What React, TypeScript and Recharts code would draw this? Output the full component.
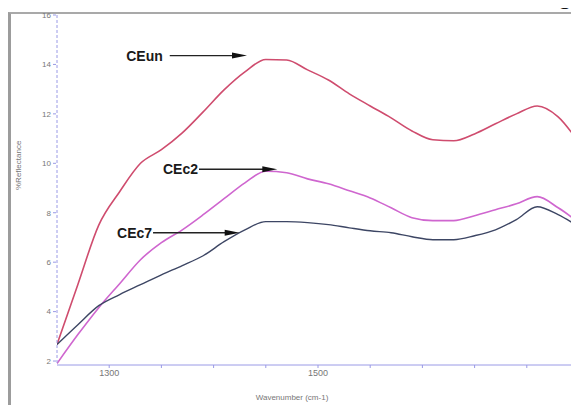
import React from 'react';
import { LineChart, Line, XAxis, YAxis, ReferenceLine } from 'recharts';

// wavenumber samples (cm-1)
const wavenumbers = [
  1250, 1270, 1290, 1310, 1330, 1350, 1370, 1390, 1410, 1430, 1450, 1470, 1490,
  1510, 1530, 1550, 1570, 1590, 1610, 1630, 1650, 1670, 1690, 1710, 1730, 1750,
];

const ceUn = [
  2.67, 5.1, 7.5, 8.85, 10.0, 10.55, 11.23, 12.08, 12.97, 13.7, 14.2, 14.18, 13.78,
  13.37, 12.81, 12.32, 11.84, 11.31, 10.95, 10.91, 11.19, 11.6, 12.0, 12.32, 11.88, 10.83,
];

const ceC2 = [
  1.9, 3.07, 4.16, 5.13, 6.1, 6.79, 7.31, 7.92, 8.57, 9.21, 9.68, 9.62, 9.37,
  9.17, 8.89, 8.6, 8.2, 7.8, 7.68, 7.68, 7.88, 8.12, 8.36, 8.65, 8.2, 7.6,
];

const ceC7 = [
  2.67, 3.47, 4.24, 4.69, 5.09, 5.49, 5.86, 6.26, 6.83, 7.31, 7.64, 7.64, 7.6,
  7.52, 7.39, 7.27, 7.19, 7.03, 6.91, 6.91, 7.07, 7.31, 7.72, 8.24, 7.92, 7.43,
];

const yTicks = [2, 4, 6, 8, 10, 12, 14, 16];
const xTicks = [1300, 1350, 1400, 1450, 1500, 1550, 1600, 1650, 1700];
const xLabelled = [1300, 1500];

// arrow annotations: label, arrow start / end wavenumber, height
const noteLabels = ['CEun', 'CEc2', 'CEc7'];
const noteFrom = [1358, 1386, 1342];
const noteTo = [1432, 1461, 1425];
const noteY = [14.36, 9.76, 7.19];
const noteGap = [7, 1, 1];

const data = wavenumbers.map((w, i) => ({ w, ceUn: ceUn[i], ceC2: ceC2[i], ceC7: ceC7[i] }));

const arrowShape = (label: string, gap: number) => (props: any) => {
  const { x1, y1, x2, y2 } = props;
  return (
    <g>
      <line x1={x1} y1={y1} x2={x2 - 12} y2={y2} stroke="#222" strokeWidth={1.3} />
      <polygon points={`${x2},${y2} ${x2 - 15},${y2 - 3} ${x2 - 15},${y2 + 3}`} fill="#111" />
      <text
        x={x1 - gap}
        y={y1}
        textAnchor="end"
        dominantBaseline="central"
        fontFamily="Liberation Sans, Arial, sans-serif"
        fontWeight="bold"
        fontSize={14}
        fill="#1a1a1a"
      >
        {label}
      </text>
    </g>
  );
};

const App = () => {
  return (
    <div style={{ position: 'relative', width: 571, height: 397, fontFamily: 'Liberation Sans, Arial, sans-serif' }}>
      <div
        style={{
          position: 'absolute',
          left: 0,
          top: 4,
          width: 571,
          height: 393,
          boxSizing: 'border-box',
          borderTop: '2px solid #a9a9a9',
          borderLeft: '3px solid #9c9c9c',
        }}
      />
      <span style={{ position: 'absolute', left: 549, top: -30, fontSize: 28, color: '#111' }}>g</span>
      <LineChart
        width={571}
        height={397}
        data={data}
        margin={{ top: 7, right: 0, left: 0, bottom: 0 }}
        style={{ position: 'absolute', left: 0, top: 0 }}
      >
        <XAxis
          dataKey="w"
          type="number"
          domain={[1250, 1750]}
          ticks={xTicks}
          tickFormatter={(v: number) => (xLabelled.includes(v) ? String(v) : '')}
          stroke="#9a9ae6"
          tickSize={3}
          tick={{ fontSize: 9, fill: '#777' }}
          height={40}
          allowDataOverflow
          label={{ value: 'Wavenumber (cm-1)', position: 'insideBottom', offset: 5, dx: -26, fontSize: 8, fill: '#777' }}
        />
        <YAxis
          type="number"
          domain={[1.84, 16]}
          ticks={yTicks}
          stroke="#9a9ae6"
          strokeDasharray="3 2"
          tickSize={4}
          tick={{ fontSize: 8, fill: '#777' }}
          width={49}
          allowDataOverflow
          label={{ value: '%Reflectance', angle: -90, position: 'insideLeft', offset: 10, fontSize: 8, fill: '#777' }}
        />
        <Line type="monotone" dataKey="ceUn" stroke="#cf4c6e" strokeWidth={1.6} dot={false} isAnimationActive={false} />
        <Line type="monotone" dataKey="ceC2" stroke="#cf66cf" strokeWidth={1.6} dot={false} isAnimationActive={false} />
        <Line type="monotone" dataKey="ceC7" stroke="#3d4664" strokeWidth={1.4} dot={false} isAnimationActive={false} />
        {noteLabels.map((label, i) => (
          <ReferenceLine
            key={label}
            segment={[
              { x: noteFrom[i], y: noteY[i] },
              { x: noteTo[i], y: noteY[i] },
            ]}
            ifOverflow="visible"
            shape={arrowShape(label, noteGap[i])}
          />
        ))}
      </LineChart>
    </div>
  );
};

export default App;
